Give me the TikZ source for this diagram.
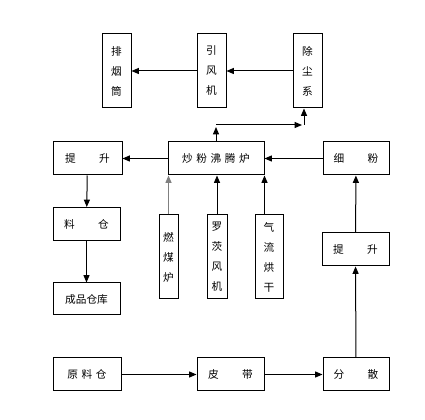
\documentclass[tikz,border=0pt]{standalone}
\usepackage{fontspec}
\usepackage{tikz}
\usetikzlibrary{positioning,arrows.meta}
\newfontfamily\cjk{Noto Sans CJK SC}
\definecolor{ink}{HTML}{000000}
\definecolor{wire}{HTML}{808080}

\begin{document}
\begin{tikzpicture}[x=0.75pt,y=-0.75pt, every node/.style={font=\cjk\fontsize{8pt}{15pt}\selectfont},
    box/.style={draw=ink,line width=0.75pt,minimum height=24.75pt,align=center,inner sep=0pt},
    tall/.style={draw=ink,line width=0.75pt,align=center,inner sep=0pt},
    arr/.style={-{Triangle[length=5.5pt,width=4.5pt]},line width=0.75pt,ink}]
    \useasboundingbox (0,0) rectangle (425,420);
    % top row
    \node[tall,minimum width=21.75pt,minimum height=55.5pt] (paiyan) at (116.5,71) {排\\烟\\筒};
    \node[tall,minimum width=21.75pt,minimum height=55.5pt] (yinfeng) at (211.5,71) {引\\风\\机};
    \node[tall,minimum width=21.75pt,minimum height=55.5pt] (chuchen) at (307.5,71) {除\\尘\\系};
    % middle row
    \node[box,minimum width=51.75pt] (tisheng) at (87.5,158.5) {提\hspace{2.2em}升};
    \node[box,minimum width=72pt] (luzi) at (216,158.5) {炒\,\,粉\,\,沸\,\,腾\,\,炉};
    \node[box,minimum width=49.5pt] (xifen) at (356,158.5) {细\hspace{2.2em}粉};
    \node[box,minimum width=50.25pt] (liaocang) at (86.5,224) {料\hspace{2.2em}仓};
    \node[box,minimum width=50.25pt,minimum height=24pt] (chengpin) at (86.5,299) {成品仓库};
    \node[tall,minimum width=14.25pt,minimum height=63pt] (ranmei) at (168.5,257) {燃\\煤\\炉};
    \node[tall,minimum width=15pt,minimum height=63pt] (luoci) at (217,257) {罗\\茨\\风\\机};
    \node[tall,minimum width=21pt,minimum height=63pt] (qiliu) at (269,257) {气\\流\\烘\\干};
    \node[box,minimum width=50.25pt] (tisheng2) at (355.5,249.5) {提\hspace{2.2em}升};
    % bottom row
    \node[box,minimum width=51pt] (yuanliao) at (87,374.5) {原\,\,料\,\,仓};
    \node[box,minimum width=50.25pt] (pidai) at (230.5,374.5) {皮\hspace{2.2em}带};
    \node[box,minimum width=49.5pt] (fensan) at (356,374.5) {分\hspace{2.2em}散};
    \draw[arr] (chuchen)--(yinfeng); \draw[arr] (yinfeng)--(paiyan);
    \draw[arr] (xifen)--(luzi); \draw[arr] (luzi)--(tisheng);
    \draw[arr] (tisheng)--(liaocang); \draw[arr] (liaocang)--(chengpin);
    \draw[arr] (yuanliao)--(pidai); \draw[arr] (pidai)--(fensan);
    \draw[arr] (fensan)--(tisheng2); \draw[arr] (tisheng2)--(xifen);
    \draw[arr,wire] (ranmei.north)--(ranmei |- luzi.south);
    \draw[arr] (luoci.north)--(luoci |- luzi.south);
    \draw[arr] (qiliu.north -| luzi.south east)--(luzi.south east);
    \coordinate (bend) at (216,125);
    \coordinate (turn) at (304,125);
    \draw[arr] (luzi.north)--([yshift=-1.5pt]bend);
    \draw[arr] (bend)--([xshift=-1.5pt]turn);
    \draw[arr] (turn)--(turn |- chuchen.south);
\end{tikzpicture}
\end{document}
